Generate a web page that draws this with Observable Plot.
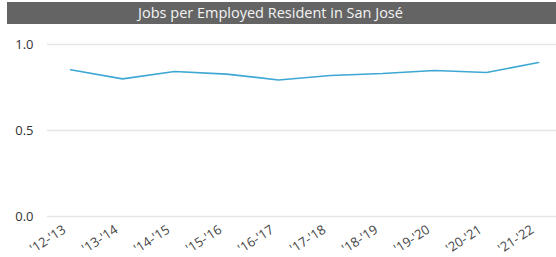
<!DOCTYPE html>
<html>
<head>
<meta charset="utf-8">
<script src="https://cdn.jsdelivr.net/npm/d3@7"></script>
<script src="https://cdn.jsdelivr.net/npm/@observablehq/plot@0.6"></script>
<style>
  html, body { margin: 0; padding: 0; background: #fff; }
  #title {
    margin: 2px 0 0 7px; width: 527px; padding-right: 22px; height: 22px; background: #646464;
    color: #f4f4f4; font-family: "Open Sans", sans-serif; font-size: 14.5px;
    line-height: 22px; text-align: center;
  }
  #chart svg { display: block; }
</style>
</head>
<body>
<div id="title">Jobs per Employed Resident in San José</div>
<div id="chart"></div>
<script>
const years = ["'12-'13", "'13-'14", "'14-'15", "'15-'16", "'16-'17", "'17-'18", "'18-'19", "'19-'20", "'20-'21", "'21-'22"];
const ratio = [0.853, 0.800, 0.843, 0.828, 0.794, 0.820, 0.831, 0.849, 0.837, 0.895];
const yTicks = [0, 0.5, 1.0];

const data = years.map((y, i) => ({year: y, value: ratio[i]}));

const chart = Plot.plot({
  width: 556,
  height: 233,
  marginTop: 20,
  marginBottom: 41,
  marginLeft: 47,
  marginRight: 0,
  style: {fontFamily: "'Open Sans', sans-serif", fontSize: "13px", color: "#333", background: "#fff"},
  x: {type: "point", domain: years, range: [68, 540], padding: 0},
  y: {domain: [0, 1], range: [192, 20]},
  marks: [
    Plot.ruleY(yTicks, {stroke: "#e6e6e6", strokeWidth: 1.5}),
    Plot.axisY(yTicks, {tickSize: 0, tickPadding: 14, tickFormat: d3.format(".1f"), label: null, fill: "#333", fontSize: 13}),
    Plot.axisX({tickSize: 0, tickPadding: 10, tickRotate: -33, dx: -6, dy: 2, label: null, fill: "#444", fontSize: 13}),
    Plot.line(data, {x: "year", y: "value", stroke: "#3fa7d3", strokeWidth: 1.6})
  ]
});
document.getElementById("chart").appendChild(chart);
</script>
</body>
</html>
